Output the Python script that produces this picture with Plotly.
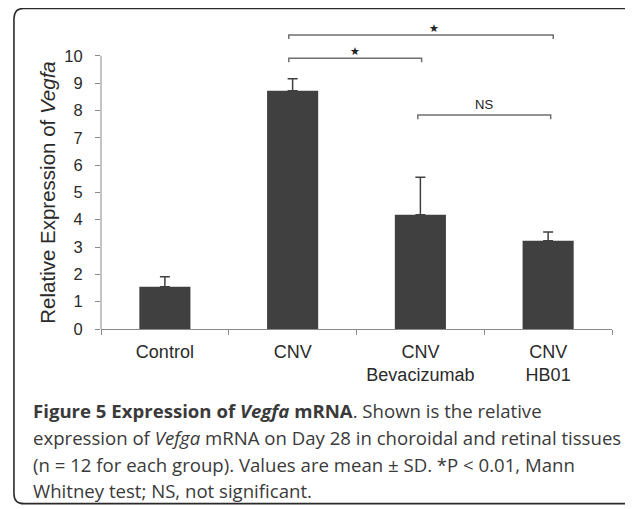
import plotly.graph_objects as go

# ---- data ----
categories = ["Control", "CNV", "CNV<br>Bevacizumab", "CNV<br>HB01"]
means = [1.55, 8.72, 4.18, 3.23]
sds = [0.36, 0.44, 1.37, 0.32]

y_ticks = [0, 1, 2, 3, 4, 5, 6, 7, 8, 9, 10]

# significance brackets (x in category index units)
bracket_x0 = [0.97, 0.97, 1.98]
bracket_x1 = [2.01, 3.04, 3.02]
bracket_y = [9.91, 10.76, 7.83]
bracket_label = ["★", "★", "NS"]
label_x = [1.49, 2.11, 2.50]
label_y = [10.14, 10.99, 8.20]

y_title = "Relative Expression of <i>Vegfa</i>"
caption_lines = [
    "<b>Figure 5 Expression of <i>Vegfa</i> mRNA</b>. Shown is the relative",
    "expression of <i>Vefga</i> mRNA on Day 28 in choroidal and retinal tissues",
    "(n = 12 for each group). Values are mean ± SD. *P &lt; 0.01, Mann",
    "Whitney test; NS, not significant.",
]

# ---- layout geometry ----
# the page body adds an 8px margin, so work in page pixels and shift
OFF = 8
W, H = 633 - OFF, 509 - OFF
ax_left_pg, ax_right_pg = 101.0, 611.7
y0_pg, y10_pg = 329.3, 56.0
y_max = 11.2
px_per_unit = (y0_pg - y10_pg) / 10
L = ax_left_pg - OFF
R = W - (ax_right_pg - OFF)
B = H - (y0_pg - OFF)
T = (y0_pg - OFF) - y_max * px_per_unit
plot_w = W - L - R
plot_h = H - T - B


def px2paper_x(px_page):
    return (px_page - OFF - L) / plot_w


def px2paper_y(py_page):
    return (H - B - (py_page - OFF)) / plot_h


xpos = list(range(len(categories)))

fig = go.Figure()
fig.add_trace(go.Bar(
    x=xpos, y=means, width=0.4,
    marker=dict(color="#404040", line=dict(width=0)),
    error_y=dict(type="data", array=sds, arrayminus=[0] * len(sds), symmetric=False,
                 color="#404040", thickness=1.5, width=5),
    hoverinfo="skip",
))

shapes = []
annotations = []

# y-axis line (from 0 to 10 only)
shapes.append(dict(type="line", xref="paper", yref="paper",
                   x0=0, x1=0, y0=0, y1=y_ticks[-1] / y_max,
                   line=dict(color="#8a8a8a", width=1)))

# brackets
hook = 0.15
for x0, x1, yb, lab, lx, ly in zip(bracket_x0, bracket_x1, bracket_y, bracket_label, label_x, label_y):
    shapes.append(dict(type="path", xref="x", yref="y",
                       path=f"M {x0},{yb - hook} L {x0},{yb} L {x1},{yb} L {x1},{yb - hook}",
                       line=dict(color="#707070", width=1.5)))
    is_star = lab == "★"
    annotations.append(dict(x=lx, y=ly, xref="x", yref="y", text=lab, showarrow=False,
                            font=dict(family="DejaVu Sans" if is_star else "Liberation Sans",
                                      size=11 if is_star else 13, color="#222222"),
                            xanchor="center", yanchor="middle"))

# y axis title
annotations.append(dict(x=px2paper_x(48), y=px2paper_y(193), xref="paper", yref="paper",
                        text=y_title, textangle=-90, showarrow=False,
                        font=dict(family="Liberation Sans", size=20.5, color="#2a2a2a"),
                        xanchor="center", yanchor="middle"))

# caption
cap_y = [411, 438, 465, 491]
for line, cy in zip(caption_lines, cap_y):
    annotations.append(dict(x=px2paper_x(31), y=px2paper_y(cy), xref="paper", yref="paper",
                            text=line, showarrow=False, align="left",
                            font=dict(family="Open Sans", size=18.6, color="#3a3a3a"),
                            xanchor="left", yanchor="middle"))

# rounded frame (open on the right)
fl, ft, fb, fr = 14, 8.6, 504, 650
rr = 10
ax_ = px2paper_x
ay_ = px2paper_y
frame_path = (
    f"M {ax_(fr)},{ay_(ft)} L {ax_(fl + rr)},{ay_(ft)} "
    f"Q {ax_(fl)},{ay_(ft)} {ax_(fl)},{ay_(ft + rr)} "
    f"L {ax_(fl)},{ay_(fb - rr)} "
    f"Q {ax_(fl)},{ay_(fb)} {ax_(fl + rr)},{ay_(fb)} "
    f"L {ax_(fr)},{ay_(fb)}"
)
shapes.append(dict(type="path", xref="paper", yref="paper", path=frame_path,
                   line=dict(color="#2b2b2b", width=1.6)))

fig.update_layout(
    width=W, height=H,
    margin=dict(l=L, r=R, t=T, b=B, pad=0),
    paper_bgcolor="white", plot_bgcolor="white",
    showlegend=False,
    font=dict(family="Liberation Sans", color="#2a2a2a"),
    shapes=shapes,
    annotations=annotations,
)
fig.update_xaxes(
    range=[-0.5, len(categories) - 0.5],
    tickmode="array", tickvals=xpos, ticktext=categories,
    ticks="", showgrid=False, zeroline=False,
    showline=True, linecolor="#8a8a8a", linewidth=1,
    tickfont=dict(family="Liberation Sans", size=18, color="#2a2a2a"),
    ticklabelstandoff=6,
    minor=dict(tickmode="array", tickvals=[i - 0.5 for i in range(len(categories) + 1)],
               ticks="outside", ticklen=5, tickcolor="#8a8a8a", tickwidth=1, showgrid=False),
    fixedrange=True,
)
fig.update_yaxes(
    range=[0, y_max],
    tickmode="array", tickvals=y_ticks, ticktext=[str(v) for v in y_ticks],
    ticks="outside", ticklen=5, tickcolor="#8a8a8a", tickwidth=1,
    showline=False, showgrid=False, zeroline=False,
    tickfont=dict(family="Liberation Sans", size=16.5, color="#2a2a2a"),
    ticklabelstandoff=9,
    fixedrange=True,
)

fig.write_html("out.html")
